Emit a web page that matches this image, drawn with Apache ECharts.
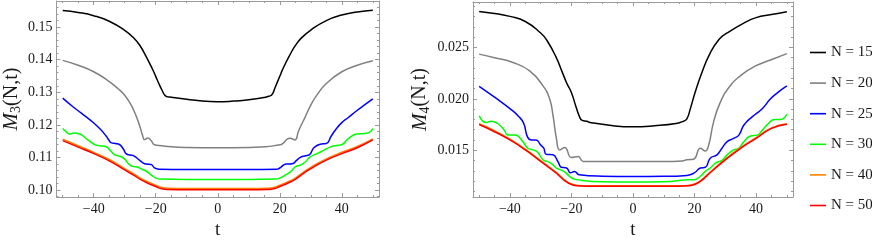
<!DOCTYPE html>
<html>
<head>
<meta charset="utf-8">
<script src="https://cdn.jsdelivr.net/npm/echarts@6/dist/echarts.min.js"></script>
<style>html,body{margin:0;padding:0;background:#fff;}#c{width:872px;height:245px;}</style>
</head>
<body>
<div id="c"></div>
<script>
// ---------- tick positions ----------
const X_MAJOR = [-40, -20, 0, 20, 40];
const X_MINOR = [-50, -45, -35, -30, -25, -15, -10, -5, 5, 10, 15, 25, 30, 35, 45, 50];
const M3_MAJOR = [0.10, 0.11, 0.12, 0.13, 0.14, 0.15];
const M3_MINOR = [0.098, 0.102, 0.104, 0.106, 0.108, 0.112, 0.114, 0.116, 0.118, 0.122, 0.124, 0.126, 0.128, 0.132, 0.134, 0.136, 0.138, 0.142, 0.144, 0.146, 0.148, 0.152, 0.154, 0.156];
const M4_MAJOR = [0.015, 0.020, 0.025];
const M4_MINOR = [0.011, 0.012, 0.013, 0.014, 0.016, 0.017, 0.018, 0.019, 0.021, 0.022, 0.023, 0.024, 0.026, 0.027, 0.028, 0.029];

const NAMES = ['N = 15', 'N = 20', 'N = 25', 'N = 30', 'N = 40', 'N = 50'];
const COLORS = ['#000000', '#808080', '#0000ff', '#00ff00', '#ff8000', '#ff0000'];

// ---------- left panel: M3(N,t) ----------
const m3_t15 = [-50,-45,-40,-35,-30,-27,-25,-23,-21,-20,-19,-18,-17,-16,-15,-10,-5,0,5,10,15,16.5,17.5,18.5,20,21,23,25,27,30,35,40,45,50];
const m3_v15 = [0.1551,0.1545,0.1535,0.1518,0.1490,0.1466,0.1442,0.1408,0.1370,0.1349,0.1327,0.1307,0.1290,0.1286,0.1285,0.1279,0.1273,0.1271,0.1273,0.1277,0.1284,0.1288,0.1293,0.1315,0.1349,0.1372,0.1410,0.1443,0.1467,0.1491,0.1520,0.1537,0.1546,0.1552];

const m3_t20 = [-50,-45,-40,-35,-32,-30,-28,-27,-26,-25,-24.3,-23.6,-22.5,-21.5,-20.4,-18,-15,-10,0,10,15,17.5,19,20.5,22.5,23.3,24.9,26,27,28,30,32,35,40,45,50];
const m3_v20 = [0.1398,0.1383,0.1363,0.1333,0.1310,0.1291,0.1262,0.1243,0.1220,0.1192,0.1170,0.1155,0.1160,0.1152,0.1139,0.1136,0.1133,0.1131,0.1130,0.1131,0.1133,0.1135,0.1138,0.1140,0.1157,0.1159,0.1154,0.1180,0.1201,0.1220,0.1261,0.1292,0.1327,0.1363,0.1383,0.1397];

const m3_t25 = [-50,-47,-44,-41,-38,-36,-35,-34.3,-33,-31.7,-30.5,-29.3,-27.2,-25.5,-24,-23,-21.5,-20.4,-19,-10,0,10,19,20,22,24,25.5,26.5,28,29.5,31,33,35,36.6,38,40,42,45,47,50];
const m3_v25 = [0.1282,0.1258,0.1236,0.1214,0.1188,0.1166,0.1152,0.1145,0.1143,0.1140,0.1127,0.1110,0.1106,0.1094,0.1083,0.1080,0.1079,0.1068,0.1064,0.1063,0.1063,0.1063,0.1064,0.1068,0.1080,0.1081,0.1092,0.1100,0.1105,0.1108,0.1130,0.1141,0.1143,0.1166,0.1185,0.1207,0.1222,0.1245,0.1259,0.1280];

const m3_t30 = [-50,-49,-47.7,-46.5,-44.5,-42,-39.5,-38,-36,-34.5,-33.2,-31.5,-30,-28.7,-27.5,-26,-24.5,-23,-21.5,-20,-18.5,-10,0,10,18.5,20,21.9,23.5,25.1,26.7,28.3,29.8,32,34.1,36.2,38.3,39.9,42,44.7,47.3,48.9,50];
const m3_v30 = [0.1189,0.1180,0.1172,0.1175,0.1172,0.1155,0.1139,0.1136,0.1133,0.1120,0.1108,0.1104,0.1095,0.1080,0.1073,0.1071,0.1064,0.1058,0.1047,0.1037,0.1034,0.1033,0.1033,0.1033,0.1034,0.1037,0.1047,0.1057,0.1072,0.1077,0.1087,0.1102,0.1112,0.1122,0.1132,0.1137,0.1139,0.1157,0.1172,0.1174,0.1177,0.1189];

const m3_t4050 = [-50,-45,-40,-35,-30,-27,-25,-22,-20,-18,-16,-10,0,10,16,18,20,22,25,27,30,35,40,45,50];
const m3_v40 = [0.1156,0.1136,0.1116,0.1094,0.1066,0.1049,0.1037,0.1023,0.1015,0.1008,0.1006,0.1005,0.1005,0.1005,0.1006,0.1008,0.1015,0.1023,0.1037,0.1051,0.1070,0.1096,0.1116,0.1134,0.1157];
const m3_v50 = [0.1152,0.1132,0.1112,0.1090,0.1062,0.1045,0.1033,0.1019,0.1011,0.1004,0.1002,0.1001,0.1001,0.1001,0.1002,0.1004,0.1011,0.1019,0.1033,0.1047,0.1066,0.1092,0.1112,0.1130,0.1154];

// ---------- right panel: M4(N,t) ----------
const m4_t15 = [-50,-45,-40,-35,-30,-28,-25,-23,-21.5,-20,-18.5,-17.3,-16.5,-15,-14,-7,0,7,14,16.4,17.5,18.6,20.2,22.4,25,28,30.6,36,40,45,50];
const m4_v15 = [0.02850,0.02830,0.02802,0.02752,0.02640,0.02570,0.02405,0.02260,0.02150,0.02060,0.01920,0.01820,0.01790,0.01782,0.01770,0.01740,0.01728,0.01738,0.01760,0.01782,0.01805,0.01900,0.02064,0.02257,0.02440,0.02580,0.02641,0.02737,0.02790,0.02820,0.02848];

const m4_t20 = [-50,-45,-39,-33.6,-29.3,-27.1,-26,-24.9,-23.8,-22.2,-20,-17.8,-16.2,-10,0,10,16,17.5,19.7,21.9,23.5,24.6,26.2,28.4,31.6,34.9,39.8,44.7,50];
const m4_v20 = [0.02435,0.02400,0.02353,0.02272,0.02128,0.02000,0.01839,0.01615,0.01503,0.01526,0.01430,0.01440,0.01391,0.01390,0.01390,0.01390,0.01395,0.01407,0.01413,0.01519,0.01493,0.01551,0.01776,0.01968,0.02128,0.02224,0.02320,0.02378,0.02440];

const m4_t25 = [-50,-45,-40,-37,-35.5,-34.3,-33,-31.5,-30,-29,-28.2,-26,-24.4,-23.3,-21.6,-20.3,-19,-17.5,-10,0,10,17.5,19.9,21.9,23.5,25.1,27.3,28.9,30.6,32.7,34.4,36,38.7,42,44.7,47,50];
const m4_v25 = [0.02122,0.02016,0.01905,0.01824,0.01760,0.01630,0.01600,0.01600,0.01550,0.01520,0.01460,0.01455,0.01390,0.01335,0.01327,0.01280,0.01293,0.01262,0.01248,0.01245,0.01246,0.01255,0.01279,0.01327,0.01334,0.01423,0.01455,0.01519,0.01584,0.01615,0.01647,0.01743,0.01824,0.01904,0.02000,0.02060,0.02125];

const m4_t30 = [-50,-47.7,-46.1,-44,-41.8,-40.7,-38.3,-35.8,-34.2,-32.5,-31,-29.3,-28,-26.5,-24.9,-22.5,-20,-18.5,-10,0,10,18.5,19.9,21.9,23.5,25.1,26.8,28.9,30.6,32.7,34.4,36,38.2,40.4,42,44,46,48,50];
const m4_v30 = [0.01834,0.01769,0.01782,0.01760,0.01695,0.01647,0.01647,0.01583,0.01519,0.01503,0.01480,0.01407,0.01391,0.01370,0.01327,0.01295,0.01231,0.01214,0.01193,0.01192,0.01193,0.01214,0.01214,0.01247,0.01295,0.01327,0.01375,0.01401,0.01455,0.01503,0.01519,0.01583,0.01638,0.01647,0.01695,0.01760,0.01800,0.01800,0.01850];

const m4_t4050 = [-50,-45,-40,-35,-30,-25,-22,-20,-18,-15,0,15,18,20,22,25,30,35,40,45,50];
const m4_v40 = [0.01757,0.01690,0.01608,0.01510,0.01398,0.01285,0.01205,0.01171,0.01158,0.01155,0.01155,0.01155,0.01158,0.01171,0.01205,0.01286,0.01414,0.01527,0.01623,0.01717,0.01757];
const m4_v50 = [0.01750,0.01680,0.01600,0.01503,0.01391,0.01279,0.01199,0.01166,0.01154,0.01150,0.01150,0.01150,0.01154,0.01166,0.01199,0.01279,0.01406,0.01519,0.01615,0.01712,0.01752];

const PANEL1 = [[m3_t15,m3_v15],[m3_t20,m3_v20],[m3_t25,m3_v25],[m3_t30,m3_v30],[m3_t4050,m3_v40],[m3_t4050,m3_v50]];
const PANEL2 = [[m4_t15,m4_v15],[m4_t20,m4_v20],[m4_t25,m4_v25],[m4_t30,m4_v30],[m4_t4050,m4_v40],[m4_t4050,m4_v50]];

// ---------- styling ----------
const FONT = 'Liberation Serif';
const FRAME = '#9a9a9a';
const TXT = '#1a1a1a';

function zip(t, v) { return t.map((x, i) => [x, v[i]]); }
const minusFmt = v => String(v).replace('-', '\u2212');

function xAxes(gi) {
  const base = { gridIndex: gi, type: 'value', min: -52, max: 52, splitLine: { show: false } };
  return [
    Object.assign({}, base, {
      position: 'bottom',
      axisLine: { show: true, onZero: false, lineStyle: { color: FRAME, width: 1 } },
      axisTick: { show: true, inside: true, length: 4, customValues: X_MAJOR, lineStyle: { color: FRAME } },
      axisLabel: { show: true, customValues: X_MAJOR, formatter: minusFmt, margin: 5, fontFamily: FONT, fontSize: 14, color: TXT },
      name: 't', nameLocation: 'middle', nameGap: 24,
      nameTextStyle: { fontFamily: FONT, fontSize: 19, color: TXT }
    }),
    Object.assign({}, base, {
      position: 'bottom',
      axisLine: { show: false, onZero: false },
      axisTick: { show: true, inside: true, length: 2, customValues: X_MINOR, lineStyle: { color: FRAME } },
      axisLabel: { show: false }
    }),
    Object.assign({}, base, {
      position: 'top',
      axisLine: { show: true, onZero: false, lineStyle: { color: FRAME, width: 1 } },
      axisTick: { show: true, inside: true, length: 4, customValues: X_MAJOR, lineStyle: { color: FRAME } },
      axisLabel: { show: false }
    }),
    Object.assign({}, base, {
      position: 'top',
      axisLine: { show: false, onZero: false },
      axisTick: { show: true, inside: true, length: 2, customValues: X_MINOR, lineStyle: { color: FRAME } },
      axisLabel: { show: false }
    })
  ];
}

function yAxes(gi, min, max, major, minor, digits, sub, gap) {
  const base = { gridIndex: gi, type: 'value', min: min, max: max, splitLine: { show: false } };
  return [
    Object.assign({}, base, {
      position: 'left',
      axisLine: { show: true, onZero: false, lineStyle: { color: FRAME, width: 1 } },
      axisTick: { show: true, inside: true, length: 4, customValues: major, lineStyle: { color: FRAME } },
      axisLabel: { show: true, customValues: major, formatter: v => v.toFixed(digits), margin: 4, fontFamily: FONT, fontSize: 14, color: TXT },
      name: '{i|M}{s|' + sub + '}{n|(N,t)}', nameLocation: 'middle', nameGap: gap, nameRotate: 90,
      nameTextStyle: {
        rich: {
          i: { fontFamily: FONT, fontStyle: 'italic', fontSize: 21, color: TXT },
          s: { fontFamily: FONT, fontSize: 14, color: TXT, padding: [10, 0, 0, 0] },
          n: { fontFamily: FONT, fontSize: 20, color: TXT }
        }
      }
    }),
    Object.assign({}, base, {
      position: 'left',
      axisLine: { show: false, onZero: false },
      axisTick: { show: true, inside: true, length: 2, customValues: minor, lineStyle: { color: FRAME } },
      axisLabel: { show: false }
    }),
    Object.assign({}, base, {
      position: 'right',
      axisLine: { show: true, onZero: false, lineStyle: { color: FRAME, width: 1 } },
      axisTick: { show: true, inside: true, length: 4, customValues: major, lineStyle: { color: FRAME } },
      axisLabel: { show: false }
    }),
    Object.assign({}, base, {
      position: 'right',
      axisLine: { show: false, onZero: false },
      axisTick: { show: true, inside: true, length: 2, customValues: minor, lineStyle: { color: FRAME } },
      axisLabel: { show: false }
    })
  ];
}

function makeSeries(panel, gi) {
  return panel.map((p, k) => ({
    type: 'line',
    name: NAMES[k],
    xAxisIndex: gi * 4,
    yAxisIndex: gi * 4,
    data: zip(p[0], p[1]),
    showSymbol: false,
    symbol: 'none',
    smooth: 0.5,
    color: COLORS[k],
    itemStyle: { color: COLORS[k] },
    lineStyle: { color: COLORS[k], width: 1.5 },
    emphasis: { disabled: true },
    z: 2 + k
  }));
}

const chart = echarts.init(document.getElementById('c'), null, { renderer: 'canvas' });
chart.setOption({
  animation: false,
  backgroundColor: '#ffffff',
  grid: [
    { left: 52, top: 1, width: 327, height: 200 },
    { left: 473, top: 2, width: 320, height: 197 }
  ],
  xAxis: xAxes(0).concat(xAxes(1)),
  yAxis: yAxes(0, 0.0979, 0.1580, M3_MAJOR, M3_MINOR, 2, '3', 33)
    .concat(yAxes(1, 0.01045, 0.02942, M4_MAJOR, M4_MINOR, 3, '4', 41)),
  legend: {
    orient: 'vertical',
    left: 805,
    top: 40,
    icon: 'rect',
    itemWidth: 16,
    itemHeight: 1.6,
    itemGap: 15.6,
    selectedMode: false,
    textStyle: { fontFamily: FONT, fontSize: 15, color: TXT, lineHeight: 14 },
    data: NAMES
  },
  series: makeSeries(PANEL1, 0).concat(makeSeries(PANEL2, 1))
});
</script>
</body>
</html>
